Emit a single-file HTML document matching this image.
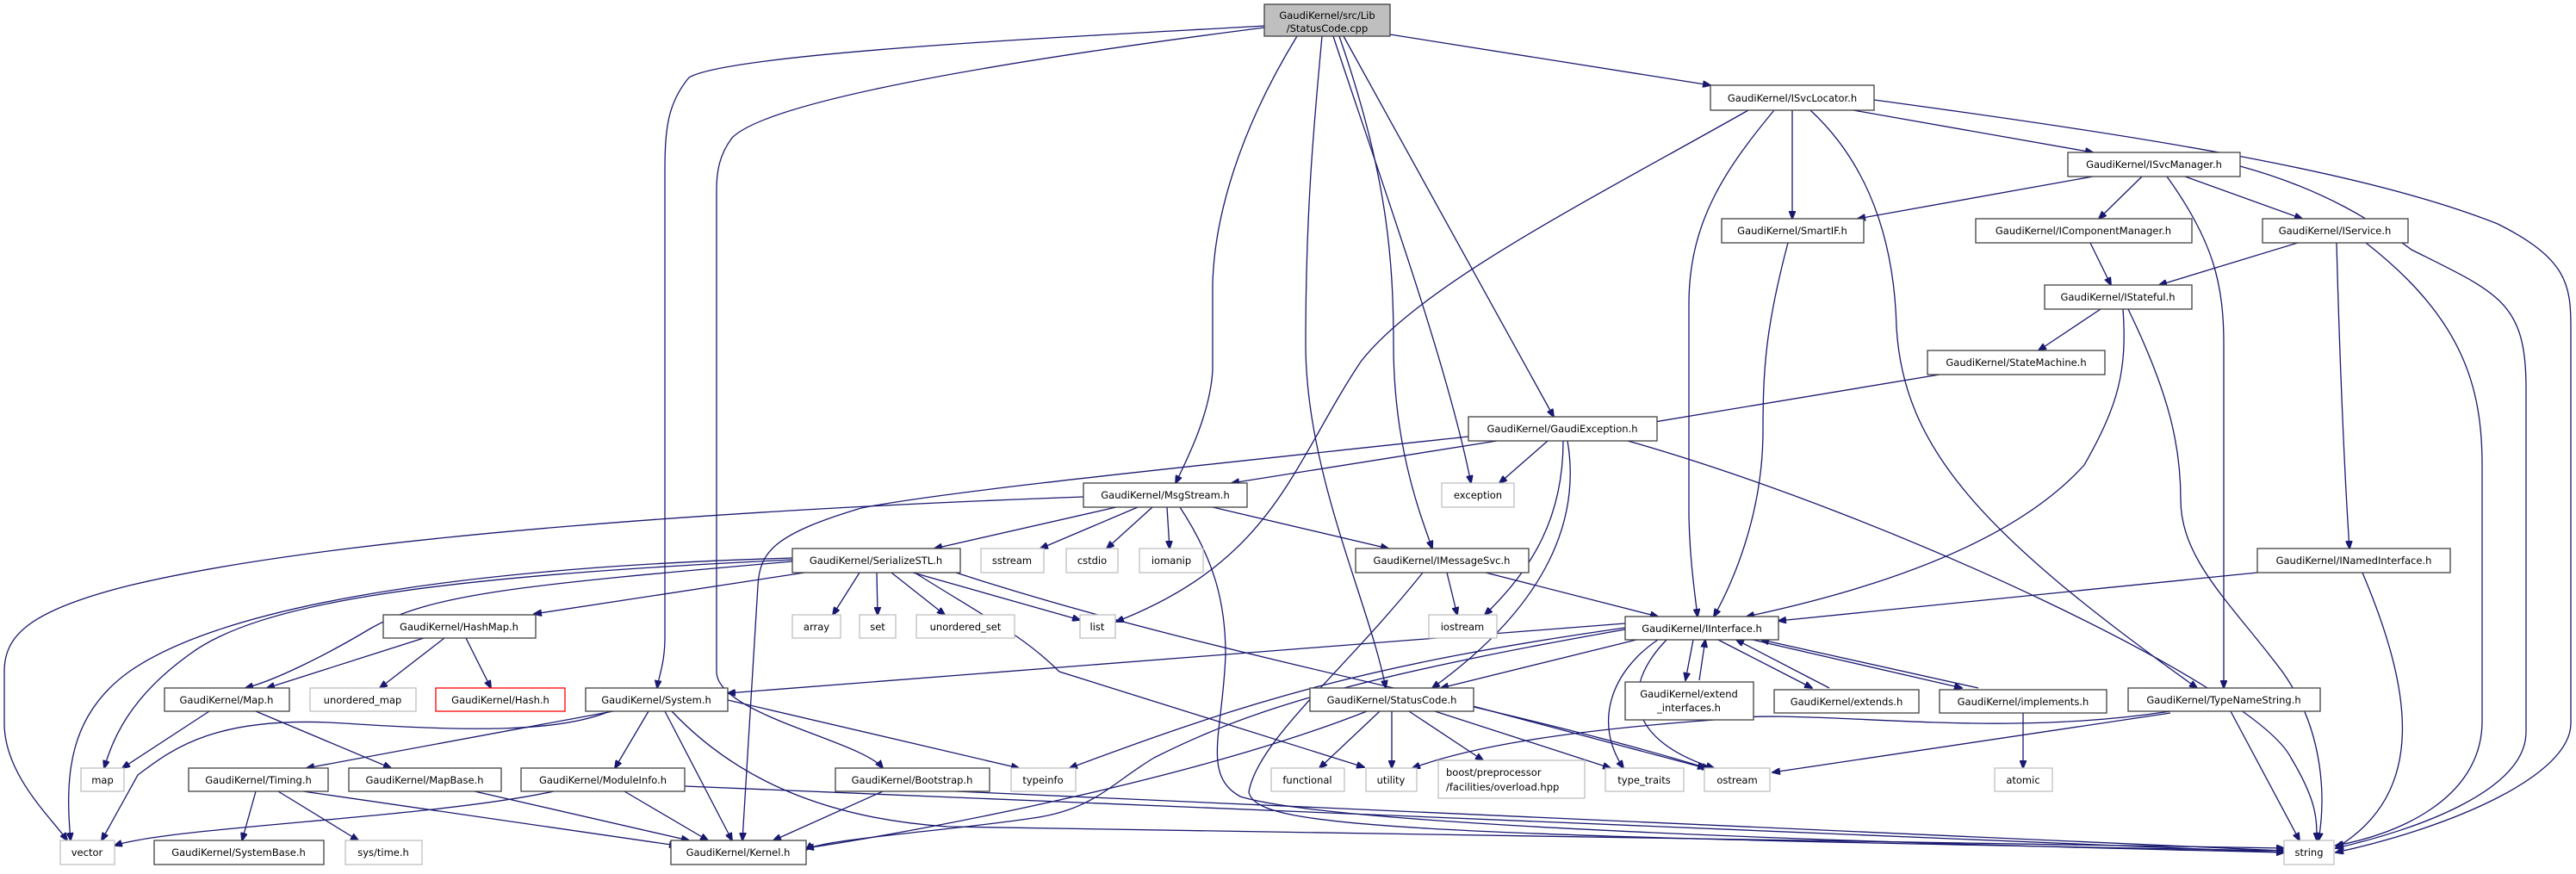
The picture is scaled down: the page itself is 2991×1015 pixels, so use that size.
<!DOCTYPE html>
<html><head><meta charset="utf-8"><style>
html,body{margin:0;padding:0;background:#fff;}
svg{display:block;}
text{font-family:"DejaVu Sans","Liberation Sans",sans-serif;font-size:11.5px;fill:#000;}
.n{fill:#fff;stroke:#404040;stroke-width:1.3;}
.g{fill:#fff;stroke:#bfbfbf;stroke-width:1.3;}
.r{fill:#fff;stroke:#ff0000;stroke-width:1.3;}
.e{fill:none;stroke:#191970;stroke-width:1.3;}
</style></head><body>
<svg width="2991" height="1015" viewBox="0 0 2991 1015" xmlns="http://www.w3.org/2000/svg">
<defs><marker id="a" markerWidth="10" markerHeight="8" refX="9" refY="4" orient="auto" markerUnits="userSpaceOnUse"><path d="M0,0 L10,4 L0,8 z" fill="#191970" stroke="#191970"/></marker></defs>
<g marker-end="url(#a)">
<!-- root -->
<path class="e" d="M1468,30 C1300,40 850,60 800,90 C775,120 772,150 772,200 L772,740 C772,770 765,785 763,799"/>
<path class="e" d="M1468,32 C1250,60 900,110 850,160 C835,180 832,200 832,220 L832,780 C832,830 1000,860 1025,892"/>
<path class="e" d="M1506,42 C1440,150 1410,250 1408,330 L1408,430 C1405,480 1380,530 1365,561"/>
<path class="e" d="M1535,42 C1525,150 1516,250 1516,400 C1516,550 1590,700 1609,799"/>
<path class="e" d="M1548,42 C1600,200 1680,420 1708,561"/>
<path class="e" d="M1555,42 C1610,200 1618,300 1618,400 C1618,520 1650,600 1663,637"/>
<path class="e" d="M1560,42 L1804,484"/>
<path class="e" d="M1614,40 L1986,99"/>
<!-- ISvcLocator -->
<path class="e" d="M2030,128 C1850,230 1650,330 1580,420 C1500,540 1480,650 1296,722"/>
<path class="e" d="M2060,128 C2000,200 1962,260 1961,350 L1961,600 C1962,650 1968,690 1971,716"/>
<path class="e" d="M2081,128 L2081,254"/>
<path class="e" d="M2102,128 C2180,200 2200,300 2202,380 C2210,520 2300,620 2551,799"/>
<path class="e" d="M2152,128 L2430,177"/>
<path class="e" d="M2176,116 C2500,160 2750,200 2900,260 C2980,300 2985,330 2985,380 L2985,840 C2985,900 2850,960 2712,990"/>
<!-- ISvcManager -->
<path class="e" d="M2430,205 L2157,254"/>
<path class="e" d="M2487,205 L2437,254"/>
<path class="e" d="M2537,205 L2673,254"/>
<path class="e" d="M2516,205 C2570,280 2582,330 2582,400 L2582,799"/>
<path class="e" d="M2601,193 C2700,220 2760,260 2800,290 C2900,340 2933,350 2933,450 L2933,850 C2933,920 2800,965 2712,985"/>
<path class="e" d="M2427,282 L2451,331"/>
<path class="e" d="M2668,282 L2507,331"/>
<path class="e" d="M2713,282 C2716,400 2722,550 2728,637"/>
<path class="e" d="M2747,282 C2860,370 2882,450 2882,540 L2882,840 C2880,930 2780,970 2712,982"/>
<path class="e" d="M2439,359 L2367,407"/>
<path class="e" d="M2465,359 C2470,430 2460,470 2420,540 C2330,640 2150,690 2028,716"/>
<path class="e" d="M2471,359 C2520,460 2532,520 2532,580 C2532,650 2590,700 2650,780 C2700,850 2700,930 2692,976"/>
<path class="e" d="M2252,435 L1897,494"/>
<path class="e" d="M2076,282 C2050,380 2047,430 2047,500 C2047,600 2010,680 1990,716"/>
<path class="e" d="M2621,665 L2065,721"/>
<path class="e" d="M2743,665 C2800,800 2820,920 2712,985"/>
<!-- GaudiException -->
<path class="e" d="M1738,512 L1430,561"/>
<path class="e" d="M1705,507 C1400,540 1100,570 1000,590 C900,620 882,640 880,680 L862,976"/>
<path class="e" d="M1797,512 L1741,561"/>
<path class="e" d="M1815,512 C1815,600 1780,660 1724,714"/>
<path class="e" d="M1820,512 C1835,600 1800,700 1663,799"/>
<path class="e" d="M1890,512 C2200,600 2620,800 2660,880 C2690,930 2690,950 2690,976"/>
<!-- MsgStream -->
<path class="e" d="M1258,577 C900,590 400,620 150,680 C30,710 5,740 5,780 L5,840 C5,900 60,950 78,976"/>
<path class="e" d="M1296,589 L1085,637"/>
<path class="e" d="M1321,589 L1208,637"/>
<path class="e" d="M1338,589 L1285,637"/>
<path class="e" d="M1355,589 L1358,637"/>
<path class="e" d="M1408,589 L1612,637"/>
<path class="e" d="M1370,589 C1410,650 1423,700 1423,760 C1420,850 1395,900 1440,925 C1550,960 2200,980 2652,990"/>
<!-- SerializeSTL -->
<path class="e" d="M934,665 L620,713"/>
<path class="e" d="M920,652 C600,680 500,690 430,730 C380,760 320,790 285,799"/>
<path class="e" d="M920,650 C500,670 300,700 220,760 C150,810 130,860 121,892"/>
<path class="e" d="M920,648 C500,660 250,710 150,780 C80,830 75,900 82,976"/>
<path class="e" d="M998,665 L967,714"/>
<path class="e" d="M1018,665 L1019,714"/>
<path class="e" d="M1035,665 L1097,714"/>
<path class="e" d="M1060,665 L1254,720"/>
<path class="e" d="M1062,665 C1150,720 1190,740 1230,780 L1584,891"/>
<path class="e" d="M1110,665 C1400,760 1750,820 1985,893"/>
<!-- HashMap / Map -->
<path class="e" d="M492,741 L310,799"/>
<path class="e" d="M516,741 L441,799"/>
<path class="e" d="M541,741 L570,799"/>
<path class="e" d="M243,826 L142,892"/>
<path class="e" d="M297,826 L454,892"/>
<!-- System -->
<path class="e" d="M708,826 C650,850 550,850 400,840 C250,830 200,870 160,900 L118,976"/>
<path class="e" d="M712,826 L356,892"/>
<path class="e" d="M753,826 L714,892"/>
<path class="e" d="M772,826 L850,976"/>
<path class="e" d="M780,826 C850,900 950,950 1100,960 L2652,985"/>
<path class="e" d="M845,813 L1183,892"/>
<!-- Timing etc -->
<path class="e" d="M297,919 L281,976"/>
<path class="e" d="M323,919 L416,976"/>
<path class="e" d="M352,919 L786,982"/>
<path class="e" d="M551,919 L800,976"/>
<path class="e" d="M643,919 C500,950 200,960 133,982"/>
<path class="e" d="M725,919 L822,976"/>
<path class="e" d="M795,913 L2652,990"/>
<path class="e" d="M1025,919 L898,976"/>
<path class="e" d="M1110,919 L2652,988"/>
<!-- IMessageSvc -->
<path class="e" d="M1680,665 L1692,714"/>
<path class="e" d="M1725,665 L1925,716"/>
<path class="e" d="M1652,665 C1560,780 1460,860 1450,920 C1460,960 1600,970 2652,988"/>
<!-- StatusCode -->
<path class="e" d="M1587,826 C1400,900 1100,960 936,985"/>
<path class="e" d="M1602,826 L1532,892"/>
<path class="e" d="M1616,826 L1616,892"/>
<path class="e" d="M1636,826 L1722,883"/>
<path class="e" d="M1666,826 L1870,892"/>
<path class="e" d="M1710,820 L1980,892"/>
<!-- IInterface -->
<path class="e" d="M1887,724 L845,805"/>
<path class="e" d="M1900,743 L1673,799"/>
<path class="e" d="M1887,729 C1600,770 1460,810 1242,892"/>
<path class="e" d="M1887,731 C1550,790 1440,830 1340,880 C1290,910 1270,940 1200,950 C1100,965 950,975 936,987"/>
<path class="e" d="M1925,743 C1870,780 1850,840 1885,892"/>
<path class="e" d="M1935,743 C1880,800 1890,860 1990,892"/>
<path class="e" d="M1966,743 L1957,790"/>
<path class="e" d="M1973,790 L1980,743"/>
<path class="e" d="M1995,743 L2104,799"/>
<path class="e" d="M2124,799 L2016,743"/>
<path class="e" d="M2035,743 L2278,799"/>
<path class="e" d="M2297,799 L2045,743"/>
<path class="e" d="M2349,826 L2349,892"/>
<path class="e" d="M2520,826 C2300,860 2100,820 1990,836 C1800,850 1700,870 1640,892"/>
<path class="e" d="M2520,828 L2058,897"/>
<path class="e" d="M2590,826 L2670,976"/>
</g>
<!-- nodes -->
<rect x="1468" y="5" width="146" height="37" style="fill:#bfbfbf;stroke:#404040;stroke-width:1.3"/>
<text x="1541" y="22" text-anchor="middle">GaudiKernel/src/Lib</text>
<text x="1541" y="37" text-anchor="middle">/StatusCode.cpp</text>
<g text-anchor="middle">
<rect class="n" x="1986" y="99" width="190" height="29"/><text x="2081" y="118">GaudiKernel/ISvcLocator.h</text>
<rect class="n" x="2401" y="177" width="200" height="28"/><text x="2501" y="195">GaudiKernel/ISvcManager.h</text>
<rect class="n" x="1999" y="254" width="165" height="28"/><text x="2081" y="272">GaudiKernel/SmartIF.h</text>
<rect class="n" x="2294" y="254" width="251" height="28"/><text x="2419" y="272">GaudiKernel/IComponentManager.h</text>
<rect class="n" x="2627" y="254" width="169" height="28"/><text x="2711" y="272">GaudiKernel/IService.h</text>
<rect class="n" x="2374" y="331" width="171" height="28"/><text x="2459" y="349">GaudiKernel/IStateful.h</text>
<rect class="n" x="2238" y="407" width="206" height="28"/><text x="2341" y="425">GaudiKernel/StateMachine.h</text>
<rect class="n" x="1705" y="484" width="219" height="28"/><text x="1814" y="502">GaudiKernel/GaudiException.h</text>
<rect class="n" x="1258" y="561" width="190" height="28"/><text x="1353" y="579">GaudiKernel/MsgStream.h</text>
<rect class="g" x="1674" y="561" width="84" height="28"/><text x="1716" y="579">exception</text>
<rect class="n" x="920" y="637" width="195" height="28"/><text x="1017" y="655">GaudiKernel/SerializeSTL.h</text>
<rect class="g" x="1139" y="637" width="73" height="28"/><text x="1175" y="655">sstream</text>
<rect class="g" x="1238" y="637" width="60" height="28"/><text x="1268" y="655">cstdio</text>
<rect class="g" x="1323" y="637" width="74" height="28"/><text x="1360" y="655">iomanip</text>
<rect class="n" x="1574" y="637" width="201" height="28"/><text x="1674" y="655">GaudiKernel/IMessageSvc.h</text>
<rect class="n" x="2621" y="637" width="224" height="28"/><text x="2733" y="655">GaudiKernel/INamedInterface.h</text>
<rect class="n" x="445" y="714" width="177" height="27"/><text x="533" y="732">GaudiKernel/HashMap.h</text>
<rect class="g" x="920" y="714" width="56" height="27"/><text x="948" y="732">array</text>
<rect class="g" x="998" y="714" width="42" height="27"/><text x="1019" y="732">set</text>
<rect class="g" x="1064" y="714" width="114" height="27"/><text x="1121" y="732">unordered_set</text>
<rect class="g" x="1254" y="714" width="41" height="27"/><text x="1274" y="732">list</text>
<rect class="g" x="1659" y="714" width="79" height="27"/><text x="1698" y="732">iostream</text>
<rect class="n" x="1887" y="716" width="178" height="27"/><text x="1976" y="734">GaudiKernel/IInterface.h</text>
<rect class="n" x="191" y="799" width="145" height="27"/><text x="263" y="817">GaudiKernel/Map.h</text>
<rect class="g" x="360" y="799" width="123" height="27"/><text x="421" y="817">unordered_map</text>
<rect class="r" x="506" y="799" width="150" height="27"/><text x="581" y="817">GaudiKernel/Hash.h</text>
<rect class="n" x="680" y="799" width="165" height="27"/><text x="762" y="817">GaudiKernel/System.h</text>
<rect class="n" x="1521" y="799" width="190" height="27"/><text x="1616" y="817">GaudiKernel/StatusCode.h</text>
<rect class="n" x="1887" y="792" width="149" height="44"/><text x="1961" y="810">GaudiKernel/extend</text><text x="1961" y="826">_interfaces.h</text>
<rect class="n" x="2060" y="801" width="168" height="27"/><text x="2144" y="819">GaudiKernel/extends.h</text>
<rect class="n" x="2252" y="801" width="194" height="27"/><text x="2349" y="819">GaudiKernel/implements.h</text>
<rect class="n" x="2471" y="799" width="223" height="27"/><text x="2582" y="817">GaudiKernel/TypeNameString.h</text>
<rect class="g" x="94" y="892" width="50" height="27"/><text x="119" y="910">map</text>
<rect class="n" x="219" y="892" width="162" height="27"/><text x="300" y="910">GaudiKernel/Timing.h</text>
<rect class="n" x="405" y="892" width="177" height="27"/><text x="493" y="910">GaudiKernel/MapBase.h</text>
<rect class="n" x="605" y="892" width="190" height="27"/><text x="700" y="910">GaudiKernel/ModuleInfo.h</text>
<rect class="n" x="970" y="892" width="179" height="27"/><text x="1059" y="910">GaudiKernel/Bootstrap.h</text>
<rect class="g" x="1174" y="892" width="75" height="27"/><text x="1211" y="910">typeinfo</text>
<rect class="g" x="1476" y="892" width="85" height="27"/><text x="1518" y="910">functional</text>
<rect class="g" x="1586" y="892" width="59" height="27"/><text x="1615" y="910">utility</text>
<rect class="g" x="1670" y="883" width="170" height="44"/>
<rect class="g" x="1864" y="892" width="91" height="27"/><text x="1909" y="910">type_traits</text>
<rect class="g" x="1979" y="892" width="76" height="27"/><text x="2017" y="910">ostream</text>
<rect class="g" x="2316" y="892" width="67" height="27"/><text x="2349" y="910">atomic</text>
<rect class="g" x="70" y="976" width="63" height="28"/><text x="101" y="994">vector</text>
<rect class="n" x="179" y="976" width="197" height="28"/><text x="277" y="994">GaudiKernel/SystemBase.h</text>
<rect class="g" x="401" y="976" width="89" height="28"/><text x="445" y="994">sys/time.h</text>
<rect class="n" x="779" y="976" width="157" height="28"/><text x="857" y="994">GaudiKernel/Kernel.h</text>
<rect class="g" x="2652" y="976" width="58" height="28"/><text x="2681" y="994">string</text>
</g>
<text x="1679" y="901">boost/preprocessor</text>
<text x="1679" y="918">/facilities/overload.hpp</text>
</svg>
</body></html>
